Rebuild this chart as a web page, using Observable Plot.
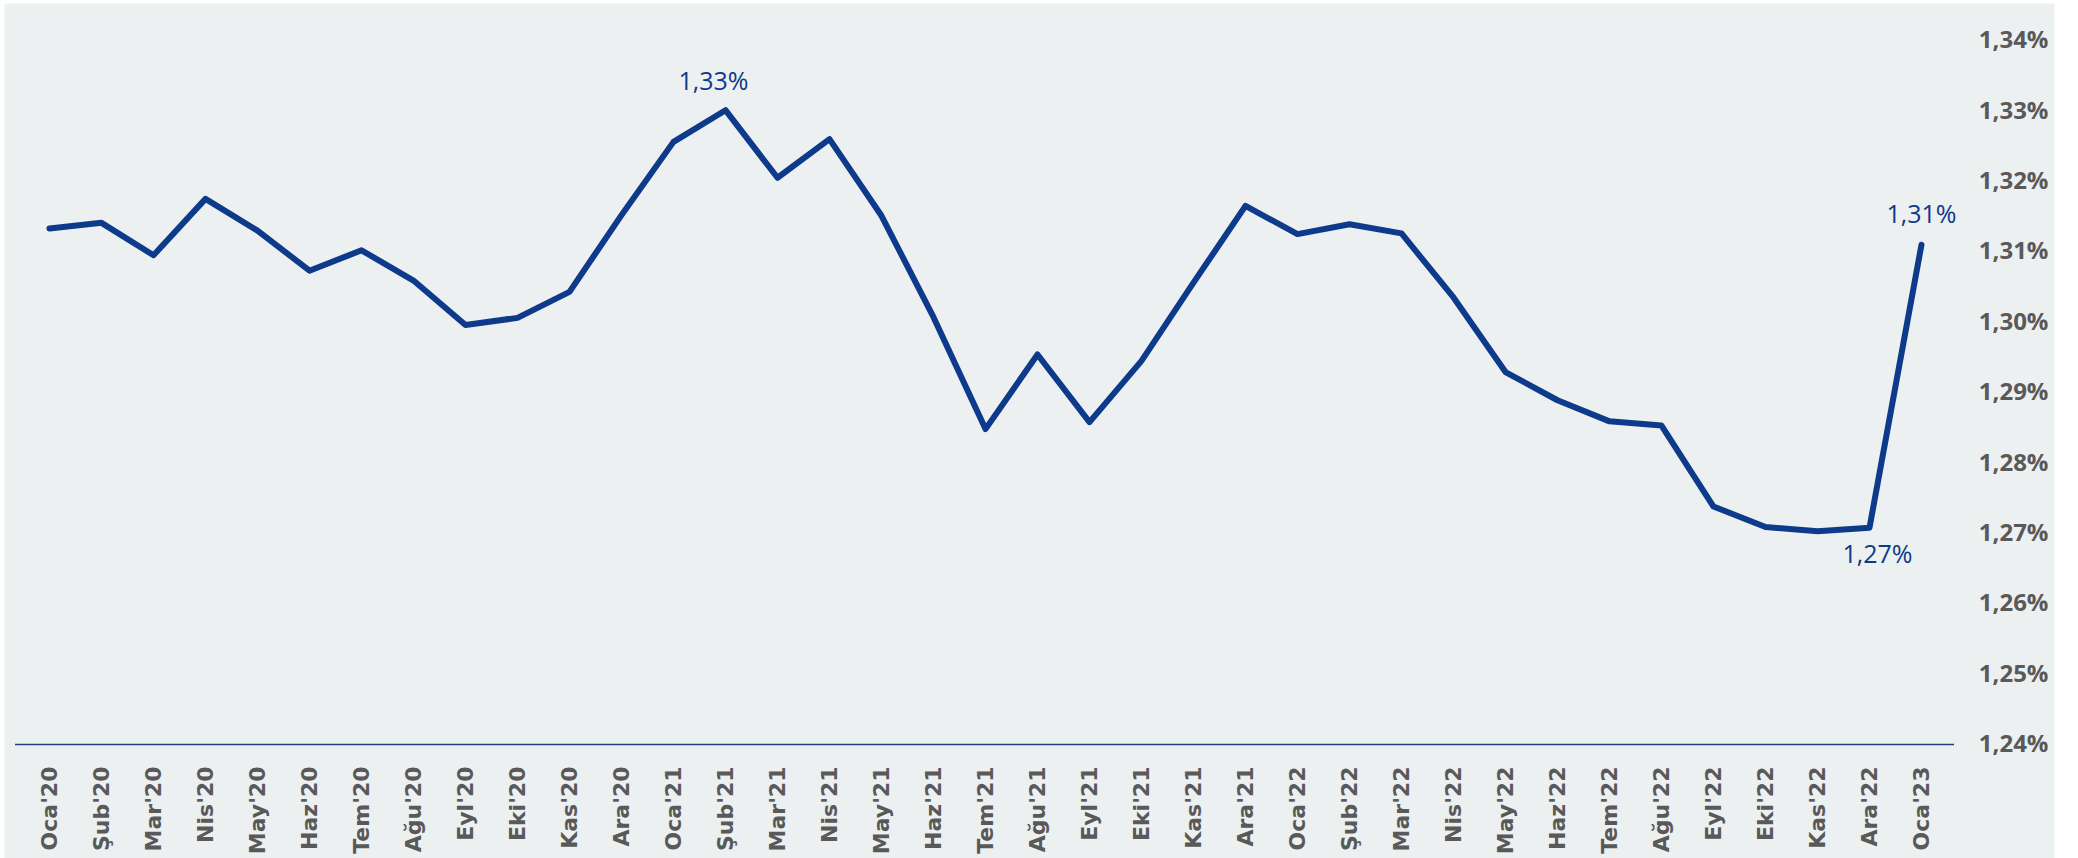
<!DOCTYPE html>
<html>
<head>
<meta charset="utf-8">
<script src="https://cdn.jsdelivr.net/npm/d3@7"></script>
<script src="https://cdn.jsdelivr.net/npm/@observablehq/plot@0.6"></script>
<style>
  html, body { margin: 0; padding: 0; background: #ffffff; }
  #chart svg { display: block; }
</style>
</head>
<body>
<div id="chart"></div>
<script>
const months = [
  "Oca'20","Şub'20","Mar'20","Nis'20","May'20","Haz'20","Tem'20","Ağu'20","Eyl'20","Eki'20","Kas'20","Ara'20",
  "Oca'21","Şub'21","Mar'21","Nis'21","May'21","Haz'21","Tem'21","Ağu'21","Eyl'21","Eki'21","Kas'21","Ara'21",
  "Oca'22","Şub'22","Mar'22","Nis'22","May'22","Haz'22","Tem'22","Ağu'22","Eyl'22","Eki'22","Kas'22","Ara'22",
  "Oca'23"
];
const values = [
  1.3133, 1.3141, 1.3095, 1.3175, 1.3130, 1.3073, 1.3102, 1.3059, 1.2996, 1.3006, 1.3043, 1.3152,
  1.3256, 1.3301, 1.3205, 1.3260, 1.3151, 1.3007, 1.2848, 1.2954, 1.2858, 1.2945, 1.3056, 1.3165,
  1.3125, 1.3139, 1.3126, 1.3035, 1.2929, 1.2889, 1.2859, 1.2853, 1.2738, 1.2709, 1.2703, 1.2708,
  1.3110
];
const yTicks = [1.24, 1.25, 1.26, 1.27, 1.28, 1.29, 1.30, 1.31, 1.32, 1.33, 1.34];
const labelMonths = ["Şub'21", "Oca'23", "Ara'22"];
const labelTexts = ["1,33%", "1,31%", "1,27%"];

const data = months.map((m, i) => ({month: m, value: values[i]}));
const labelRows = labelMonths.map((m, i) => ({month: m, value: values[months.indexOf(m)], text: labelTexts[i]}));
const fmt = d => d.toFixed(2).replace(".", ",") + "%";

const lineColor = "#0d3a8a";
const gray = "#595959";
const labelFont = {fill: lineColor, fontSize: 25, fontFamily: "'Open Sans', sans-serif", lineAnchor: "middle"};

const chart = Plot.plot({
  width: 2078,
  height: 858,
  marginLeft: 15,
  marginRight: 124,
  marginTop: 40,
  marginBottom: 114,
  style: {background: "#ffffff", fontFamily: "'Open Sans', sans-serif"},
  x: {type: "point", domain: months, padding: 0.5, label: null},
  y: {domain: [1.24, 1.34], label: null},
  marks: [
    Plot.frame({fill: "#edf0f1", stroke: null, insetLeft: -11, insetTop: -37, insetRight: -100, insetBottom: -114}),
    Plot.ruleY([1.24], {stroke: "#1e3f7e", strokeWidth: 1.6}),
    Plot.axisX({
      tickSize: 0, tickPadding: 22, tickRotate: -90,
      fontSize: 22, fontWeight: "bold", fontFamily: "'DejaVu Sans', sans-serif",
      fill: gray, label: null
    }),
    Plot.axisY({
      anchor: "right", ticks: yTicks, tickSize: 0, tickPadding: 0,
      textAnchor: "end", dx: 94, tickFormat: fmt,
      fontSize: 24, fontWeight: "bold", fontFamily: "'Open Sans', sans-serif",
      fill: gray, label: null
    }),
    Plot.line(data, {x: "month", y: "value", stroke: lineColor, strokeWidth: 6, strokeLinejoin: "round", strokeLinecap: "round"}),
    Plot.text(labelRows.filter(d => d.month === "Şub'21"), {x: "month", y: "value", text: "text", dx: -12, dy: -28, ...labelFont}),
    Plot.text(labelRows.filter(d => d.month === "Oca'23"), {x: "month", y: "value", text: "text", dx: 0, dy: -30, ...labelFont}),
    Plot.text(labelRows.filter(d => d.month === "Ara'22"), {x: "month", y: "value", text: "text", dx: 8, dy: 27, ...labelFont})
  ]
});
document.getElementById("chart").appendChild(chart);
</script>
</body>
</html>
